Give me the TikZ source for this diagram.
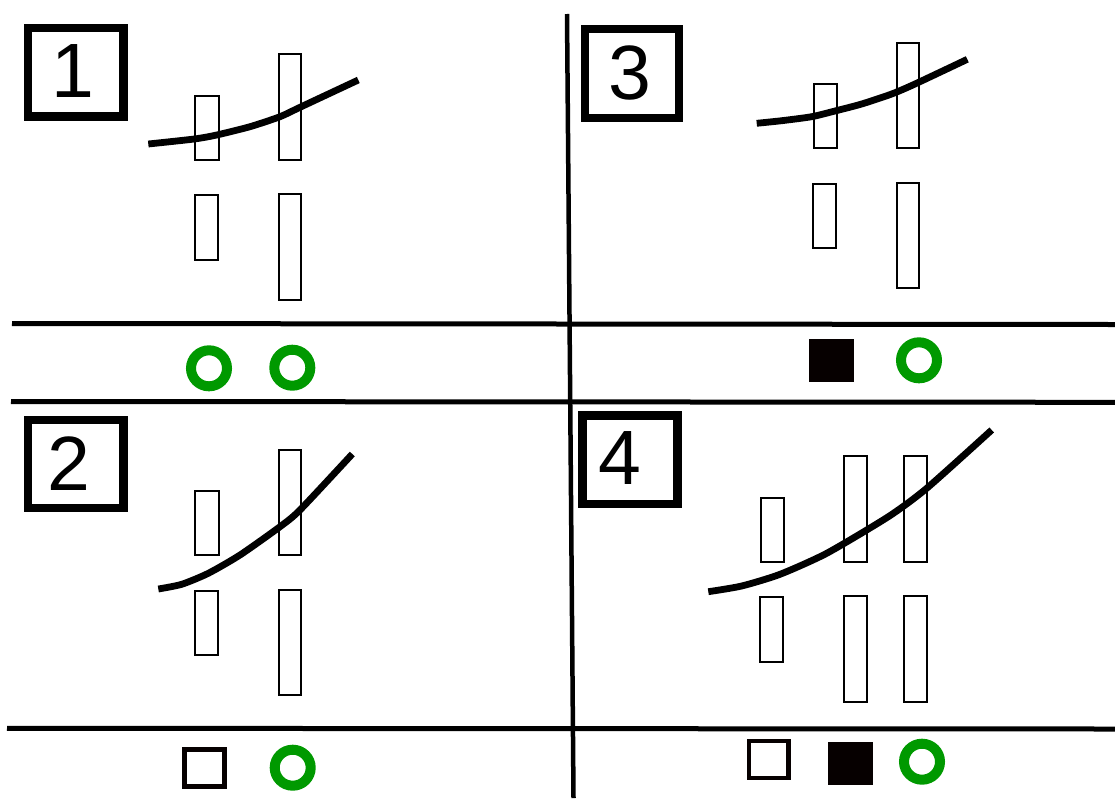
\documentclass[tikz,border=0pt]{standalone}
\usepackage{fontspec}
\setmainfont{Liberation Sans}
\definecolor{okgreen}{RGB}{0,153,0}
\definecolor{darkbox}{RGB}{6,0,0}
\tikzset{
  numbox/.style={draw, line width=8.3pt, minimum width=#1, minimum height=88.5pt, inner sep=0pt},
  digit/.style={font=\fontsize{77}{77}\selectfont, inner sep=0pt},
  bar/.style={draw, line width=2pt},
  sep/.style={line width=5pt},
  vsep/.style={line width=4.5pt},
  trend/.style={line width=6.8pt, smooth, tension=0.4},
  ring/.style={draw=okgreen, line width=10pt, circle, minimum size=36pt, inner sep=0pt},
  opensq/.style={draw=darkbox, line width=4.8pt},
  fillsq/.style={fill=darkbox, draw=darkbox, line width=0.5pt}
}
\begin{document}
\begin{tikzpicture}[x=1pt,y=-1pt]
\useasboundingbox (0,0) rectangle (1115,798);
% separators
\coordinate (l1a) at (12,323.5);  \coordinate (l1b) at (1115,324.5);
\coordinate (l2a) at (11,401.5);  \coordinate (l2b) at (1115,402.3);
\coordinate (l3a) at (7,728.3);   \coordinate (l3b) at (1115,729);
\coordinate (va) at (567,14);     \coordinate (vb) at (573.5,798);
\draw[sep] (l1a) -- (l1b);
\draw[sep] (l2a) -- (l2b);
\draw[sep] (l3a) -- (l3b);
\draw[vsep] (va) -- (vb);

% numbered boxes
\node[numbox=95.4pt] (b1) at (75.8,72.3) {};
\node[digit] (d1) at (73,71) {1};
\node[numbox=95.4pt] (b2) at (75.8,464) {};
\node[digit] (d2) at (69,463.3) {2};
\node[numbox=93.7pt] (b3) at (632,73.5) {};
\node[digit] (d3) at (629.5,72.5) {3};
\node[numbox=95pt] (b4) at (630,459.7) {};
\node[digit] (d4) at (619.5,458.3) {4};

% panel 1
\draw[bar] (195.3,96) rectangle (218.7,160);
\draw[bar] (279,54.3) rectangle (301.3,160);
\draw[bar] (195,195) rectangle (217.7,260);
\draw[bar] (279,194.3) rectangle (301.3,300);
\draw[trend] plot coordinates {(148.3,144) (194.3,139) (216.7,135) (250,126.7) (280,116.7) (300,107.3) (358.3,80)};

% panel 3
\draw[bar] (814.3,83.7) rectangle (836.7,148);
\draw[bar] (897,42.7) rectangle (919.3,148);
\draw[bar] (812.7,183.7) rectangle (835.7,248);
\draw[bar] (897,182.7) rectangle (919.3,288);
\draw[trend] plot coordinates {(756.7,123.3) (781.7,120.7) (811.7,116.7) (835,111) (861.7,104) (891.7,94) (915,84) (967.3,59.3)};

% panel 2
\draw[bar] (195.3,491) rectangle (218.7,555);
\draw[bar] (278.7,449.7) rectangle (301.3,555);
\draw[bar] (194.7,590.7) rectangle (217.7,655);
\draw[bar] (278.7,590) rectangle (301.3,695.3);
\draw[trend] plot coordinates {(158.3,589) (181.7,584.3) (208.3,573.3) (240,555) (280,526.7) (300,510) (352.3,454)};

% panel 4
\draw[bar] (761,497.7) rectangle (784,562.3);
\draw[bar] (760,597) rectangle (782.7,661.7);
\draw[bar] (843.7,456) rectangle (866.7,562.3);
\draw[bar] (843.7,596.3) rectangle (866.7,702.3);
\draw[bar] (904.3,456) rectangle (927.3,562.3);
\draw[bar] (904.3,596.3) rectangle (927.3,702.3);
\draw[trend] plot coordinates {(708.3,591.7) (741.7,586) (780,574.3) (826.7,553.3) (888.3,516.7) (926.7,488.3) (991.7,430)};

% legend row 1
\node[ring] (r1a) at (209,368.3) {};
\node[ring] (r1b) at (292.3,367.7) {};
% legend row 3
\draw[fillsq] (809,339.3) rectangle (853.3,381.7);
\node[ring] (r3) at (919,360.3) {};
% legend row 2
\draw[opensq] (184.8,749.2) rectangle (224.2,786.2);
\node[ring] (r2) at (292.7,767.7) {};
% legend row 4
\draw[opensq] (749,741) rectangle (788.3,778);
\draw[fillsq] (828.3,742.3) rectangle (872.7,784.7);
\node[ring] (r4) at (922,761.7) {};
\end{tikzpicture}
\end{document}
